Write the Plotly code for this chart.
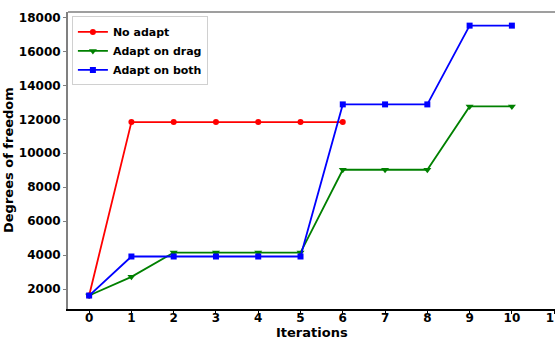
import plotly.graph_objects as go

# Degrees of freedom per adaptation iteration
iters_no_adapt = [0, 1, 2, 3, 4, 5, 6]
dof_no_adapt = [1620, 11840, 11840, 11840, 11840, 11840, 11840]

iters_drag = [0, 1, 2, 3, 4, 5, 6, 7, 8, 9, 10]
dof_drag = [1620, 2720, 4150, 4150, 4150, 4150, 9030, 9030, 9030, 12760, 12760]

iters_both = [0, 1, 2, 3, 4, 5, 6, 7, 8, 9, 10]
dof_both = [1620, 3920, 3920, 3920, 3920, 3920, 12880, 12880, 12880, 17520, 17520]

x_ticks = list(range(0, 12))
y_ticks = [2000, 4000, 6000, 8000, 10000, 12000, 14000, 16000, 18000]

FONT = "DejaVu Sans"

fig = go.Figure()
fig.add_trace(go.Scatter(
    x=iters_no_adapt, y=dof_no_adapt, name="No adapt", mode="lines+markers",
    line=dict(color="#ff0000", width=1.8),
    marker=dict(symbol="circle", size=6, color="#ff0000")))
fig.add_trace(go.Scatter(
    x=iters_drag, y=dof_drag, name="Adapt on drag", mode="lines+markers",
    line=dict(color="#008000", width=1.8),
    marker=dict(symbol="triangle-down", size=7, color="#008000")))
fig.add_trace(go.Scatter(
    x=iters_both, y=dof_both, name="Adapt on both", mode="lines+markers",
    line=dict(color="#0000ff", width=1.8),
    marker=dict(symbol="square", size=6, color="#0000ff")))

fig.update_layout(
    width=555, height=340,
    margin=dict(l=68, r=0, t=12, b=31),
    paper_bgcolor="white", plot_bgcolor="white",
    font=dict(family=FONT, color="black", size=11, weight="bold"),
    showlegend=True,
    legend=dict(
        x=0.008, y=0.985, xanchor="left", yanchor="top",
        bgcolor="rgba(255,255,255,0.8)", bordercolor="#d0d0d0", borderwidth=1,
        font=dict(family=FONT, size=11, weight="bold", color="black"),
        itemwidth=30, tracegroupgap=0,
    ),
    xaxis=dict(
        range=[-0.5, 11.02], tickvals=x_ticks, ticktext=[str(v) for v in x_ticks],
        showgrid=False, zeroline=False,
        showline=True, linecolor="black", linewidth=1.5,
        ticks="outside", ticklen=3, tickwidth=1, tickcolor="black",
        tickfont=dict(family=FONT, size=12, weight="bold"),
        ticklabelstandoff=-6, ticklabeloverflow="allow",
        automargin=False,
    ),
    yaxis=dict(
        range=[827, 18323], tickvals=y_ticks, ticktext=[str(v) for v in y_ticks],
        showgrid=False, zeroline=False,
        showline=True, linecolor="#808080", linewidth=2,
        ticks="outside", ticklen=3, tickwidth=1, tickcolor="#808080",
        tickfont=dict(family=FONT, size=12, weight="bold"),
        automargin=False,
    ),
    shapes=[dict(type="line", xref="paper", yref="paper", x0=0, x1=1, y0=1, y1=1,
                 line=dict(color="#404040", width=1.2))],
    annotations=[
        dict(text="Iterations", xref="paper", yref="paper", x=0.5, y=0,
             xanchor="center", yanchor="top", yshift=-14, showarrow=False,
             font=dict(family=FONT, size=13, weight="bold")),
        dict(text="Degrees of freedom", xref="paper", yref="paper", x=0, y=0.5,
             xanchor="right", yanchor="middle", xshift=-50, textangle=-90,
             showarrow=False, font=dict(family=FONT, size=13, weight="bold")),
    ],
)

fig.write_html("out.html")
